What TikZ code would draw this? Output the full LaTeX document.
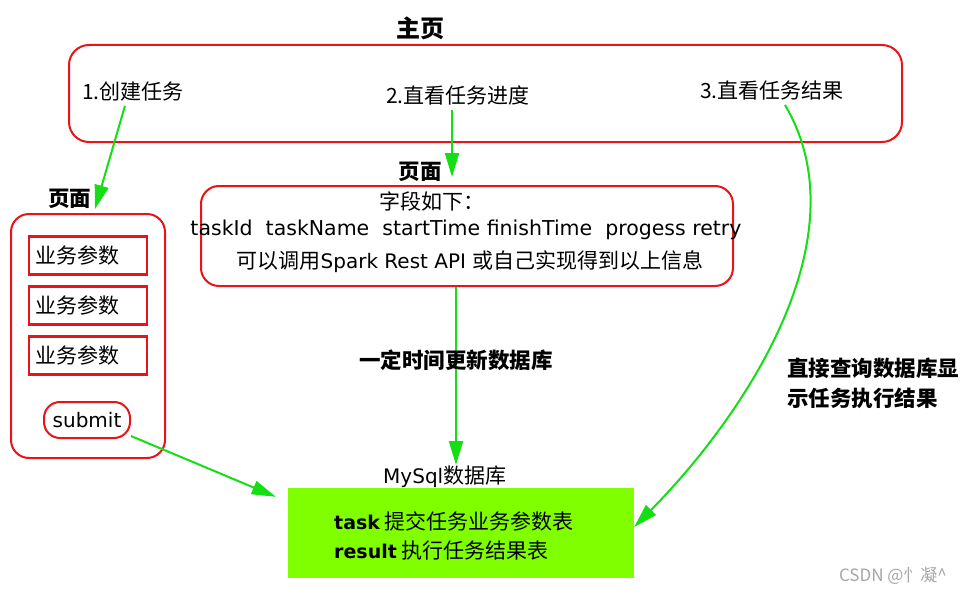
\documentclass[tikz,border=0pt]{standalone}
\usepackage{fontspec}
\setmainfont{Noto Sans CJK SC}
\newfontfamily\latinfont{DejaVu Sans}
\usetikzlibrary{arrows.meta,positioning}
\definecolor{boxred}{RGB}{232,20,24}
\definecolor{arrowgreen}{RGB}{20,222,20}
\definecolor{tablegreen}{RGB}{128,255,0}

\begin{document}
\begin{tikzpicture}[x=1pt, y=-1pt, node distance=50pt,
  >={Triangle[length=24pt,width=14pt]},
  txt/.style={inner sep=0pt, font=\fontsize{21pt}{26pt}\selectfont},
  headtxt/.style={inner sep=0pt, font=\fontsize{21.5pt}{30pt}\selectfont\bfseries},
  pagebox/.style={rectangle, draw=boxred, line width=2pt, rounded corners=20pt},
  paramfield/.style={txt, rectangle, draw=boxred, line width=2.5pt, text width=106pt, inner xsep=6pt, minimum height=38pt},
  flowline/.style={->, draw=arrowgreen, line width=2pt}]
  \useasboundingbox (0,0) rectangle (970,594);

  \node[headtxt, font=\fontsize{24pt}{30pt}\selectfont\bfseries] (title) at (420,28) {主页};
  \node[pagebox, minimum width=833pt, minimum height=97pt] (home) at (485.5,93.5) {};
  \node[txt, anchor=west] (create) at (82,92) {1.创建任务};
  \node[txt, anchor=west] (progress) at (386,95) {2.直看任务进度};
  \node[txt, anchor=west] (result) at (700,91) {3.直看任务结果};

  \node[headtxt] (formlabel) at (70,199) {页面};
  \node[pagebox, rounded corners=18pt, minimum width=154pt, minimum height=244pt] (form) at (88,336) {};
  \node[paramfield] (param1) at (88,255.5) {业务参数};
  \node[paramfield, below of=param1] (param2) {业务参数};
  \node[paramfield, below of=param2] (param3) {业务参数};
  \node[txt, pagebox, rounded corners=16pt, minimum width=86pt, minimum height=36pt, font=\fontsize{20pt}{24pt}\latinfont] (submit) at (87,420) {submit};

  \node[headtxt] (listlabel) at (420,172) {页面};
  \node[pagebox, rounded corners=18pt, minimum width=532pt, minimum height=100pt] (list) at (467,236) {};
  \node[txt] (fieldtitle) at (432,201) {字段如下：};
  \node[txt, font=\fontsize{20.5pt}{24pt}\latinfont] (fields) at (466,230) {taskId\ \ taskName\ \ startTime finishTime\ \ progess retry};
  \node[txt] (fieldnote) at (470,262) {可以调用{\fontsize{20pt}{24pt}\latinfont Spark Rest API }或自己实现得到以上信息};

  \node[txt, anchor=west] (mysql) at (383,477) {{\fontsize{20pt}{24pt}\latinfont MySql}数据库};
  \node[rectangle, fill=tablegreen, minimum width=346pt, minimum height=90pt] (db) at (461,533) {};
  \node[txt, anchor=west, align=left, font=\fontsize{21pt}{29pt}\selectfont] (tables) at (334,535.5) {{\fontsize{19pt}{29pt}\latinfont\bfseries task} 提交任务业务参数表\\{\fontsize{19pt}{29pt}\latinfont\bfseries result} 执行任务结果表};

  \node[headtxt, anchor=west, align=left] (querynote) at (787,383) {直接查询数据库显\\示任务执行结果};
  \node[txt, text=gray!70, font=\fontsize{17pt}{20pt}\selectfont] (mark) at (893,576) {CSDN @忄凝\textasciicircum};

  \coordinate (listtop) at ([xshift=-15pt,yshift=8pt]list.north);
  \coordinate (progfoot) at ([yshift=-5pt]progress.south);
  \coordinate (dbtop) at (456,465);

  \draw[flowline] ([xshift=-8pt,yshift=-4pt]create.south) -- ([xshift=7pt,yshift=4pt]form.north);
  \draw[flowline] (progfoot -| listtop) -- (listtop);
  \draw[flowline] (list.south -| dbtop) -- node[headtxt, pos=0.41] {一定时间更新数据库} (dbtop);
  \draw[flowline] (submit.-20) -- ([xshift=-12pt,yshift=-9pt]db.north west);
  \draw[flowline] ([xshift=13pt,yshift=-4pt]result.south) .. controls (865,240) and (740,420) .. ([yshift=6pt]db.east);
\end{tikzpicture}
\end{document}
